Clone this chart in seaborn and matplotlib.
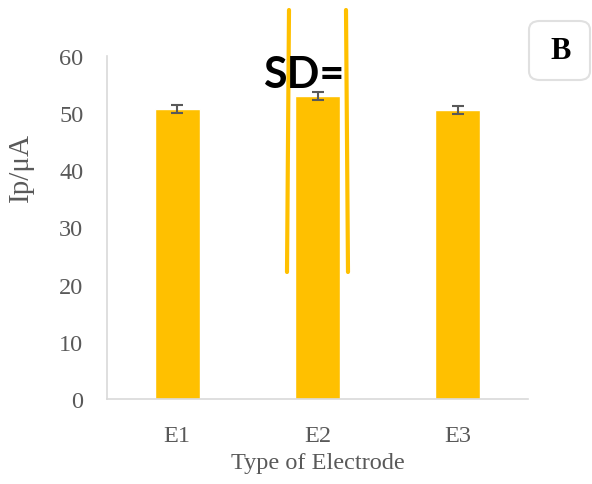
import matplotlib
matplotlib.use("Agg")
import matplotlib.pyplot as plt
import seaborn as sns
import pandas as pd
from matplotlib.patches import FancyBboxPatch
from matplotlib.lines import Line2D

# Peak current per electrode
electrodes = ["E1", "E2", "E3"]
peak_current = [50.7, 53.0, 50.5]
peak_sd = [0.7, 0.7, 0.7]
y_ticks = [0, 10, 20, 30, 40, 50, 60]

df = pd.DataFrame({"Electrode": electrodes, "Ip": peak_current})

sns.set_theme(style="white")
plt.rcParams["font.family"] = ["Liberation Serif", "DejaVu Serif"]

W, H = 592, 485
fig = plt.figure(figsize=(W / 100, H / 100), dpi=100)
ax = fig.add_axes([107 / W, 1 - 400 / H, (528 - 107) / W, (400 - 57) / H])

bar_color = "#FFC000"
text_gray = "#595959"
spine_gray = "#D9D9D9"
fs = 17.5

sns.barplot(data=df, x="Electrode", y="Ip", color=bar_color, width=0.32,
            saturation=1, ax=ax, errorbar=None)
ax.errorbar(range(len(electrodes)), peak_current, yerr=peak_sd, fmt="none",
            ecolor=text_gray, elinewidth=1.5, capsize=4.5, capthick=1.5)

ax.set_xlim(-0.5, 2.5)
ax.set_ylim(0, 60)
ax.set_yticks(y_ticks)
ax.tick_params(axis="both", labelsize=fs, colors=text_gray, length=0)
ax.tick_params(axis="y", pad=17)
ax.tick_params(axis="x", pad=19)
for lbl in ax.get_xticklabels() + ax.get_yticklabels():
    lbl.set_color(text_gray)

for side in ["top", "right"]:
    ax.spines[side].set_visible(False)
for side in ["left", "bottom"]:
    ax.spines[side].set_color(spine_gray)
    ax.spines[side].set_linewidth(1.2)

ax.set_xlabel("Type of Electrode", fontsize=fs, color=text_gray, labelpad=4)
ax.set_ylabel("")
fig.text(21 / W, 1 - 167 / H, "Ip/μA", rotation=90, fontsize=21,
         color=text_gray, ha="center", va="center")

# Bracket lines around the middle bar
for (x0, y0), (x1, y1) in [((289, 11), (287, 273)), ((346, 11), (348, 273))]:
    fig.add_artist(Line2D([x0 / W, x1 / W], [1 - y0 / H, 1 - y1 / H],
                          color=bar_color, lw=3, transform=fig.transFigure))

fig.text(304 / W, 1 - 75 / H, "SD=", fontsize=31, fontweight="bold",
         family=["Lato", "DejaVu Sans"], color="black", ha="center", va="center")

# Panel tag
box = FancyBboxPatch((529 / W, 1 - 81 / H), (590 - 529) / W, (81 - 22) / H,
                     boxstyle="round,pad=0,rounding_size=0.018",
                     transform=fig.transFigure, facecolor="white",
                     edgecolor="#E0E0E0", lw=1.5)
fig.add_artist(box)
fig.text(561 / W, 1 - 52 / H, "B", fontsize=22, fontweight="bold",
         color="black", ha="center", va="center")

fig.savefig("out.png", dpi=100)
